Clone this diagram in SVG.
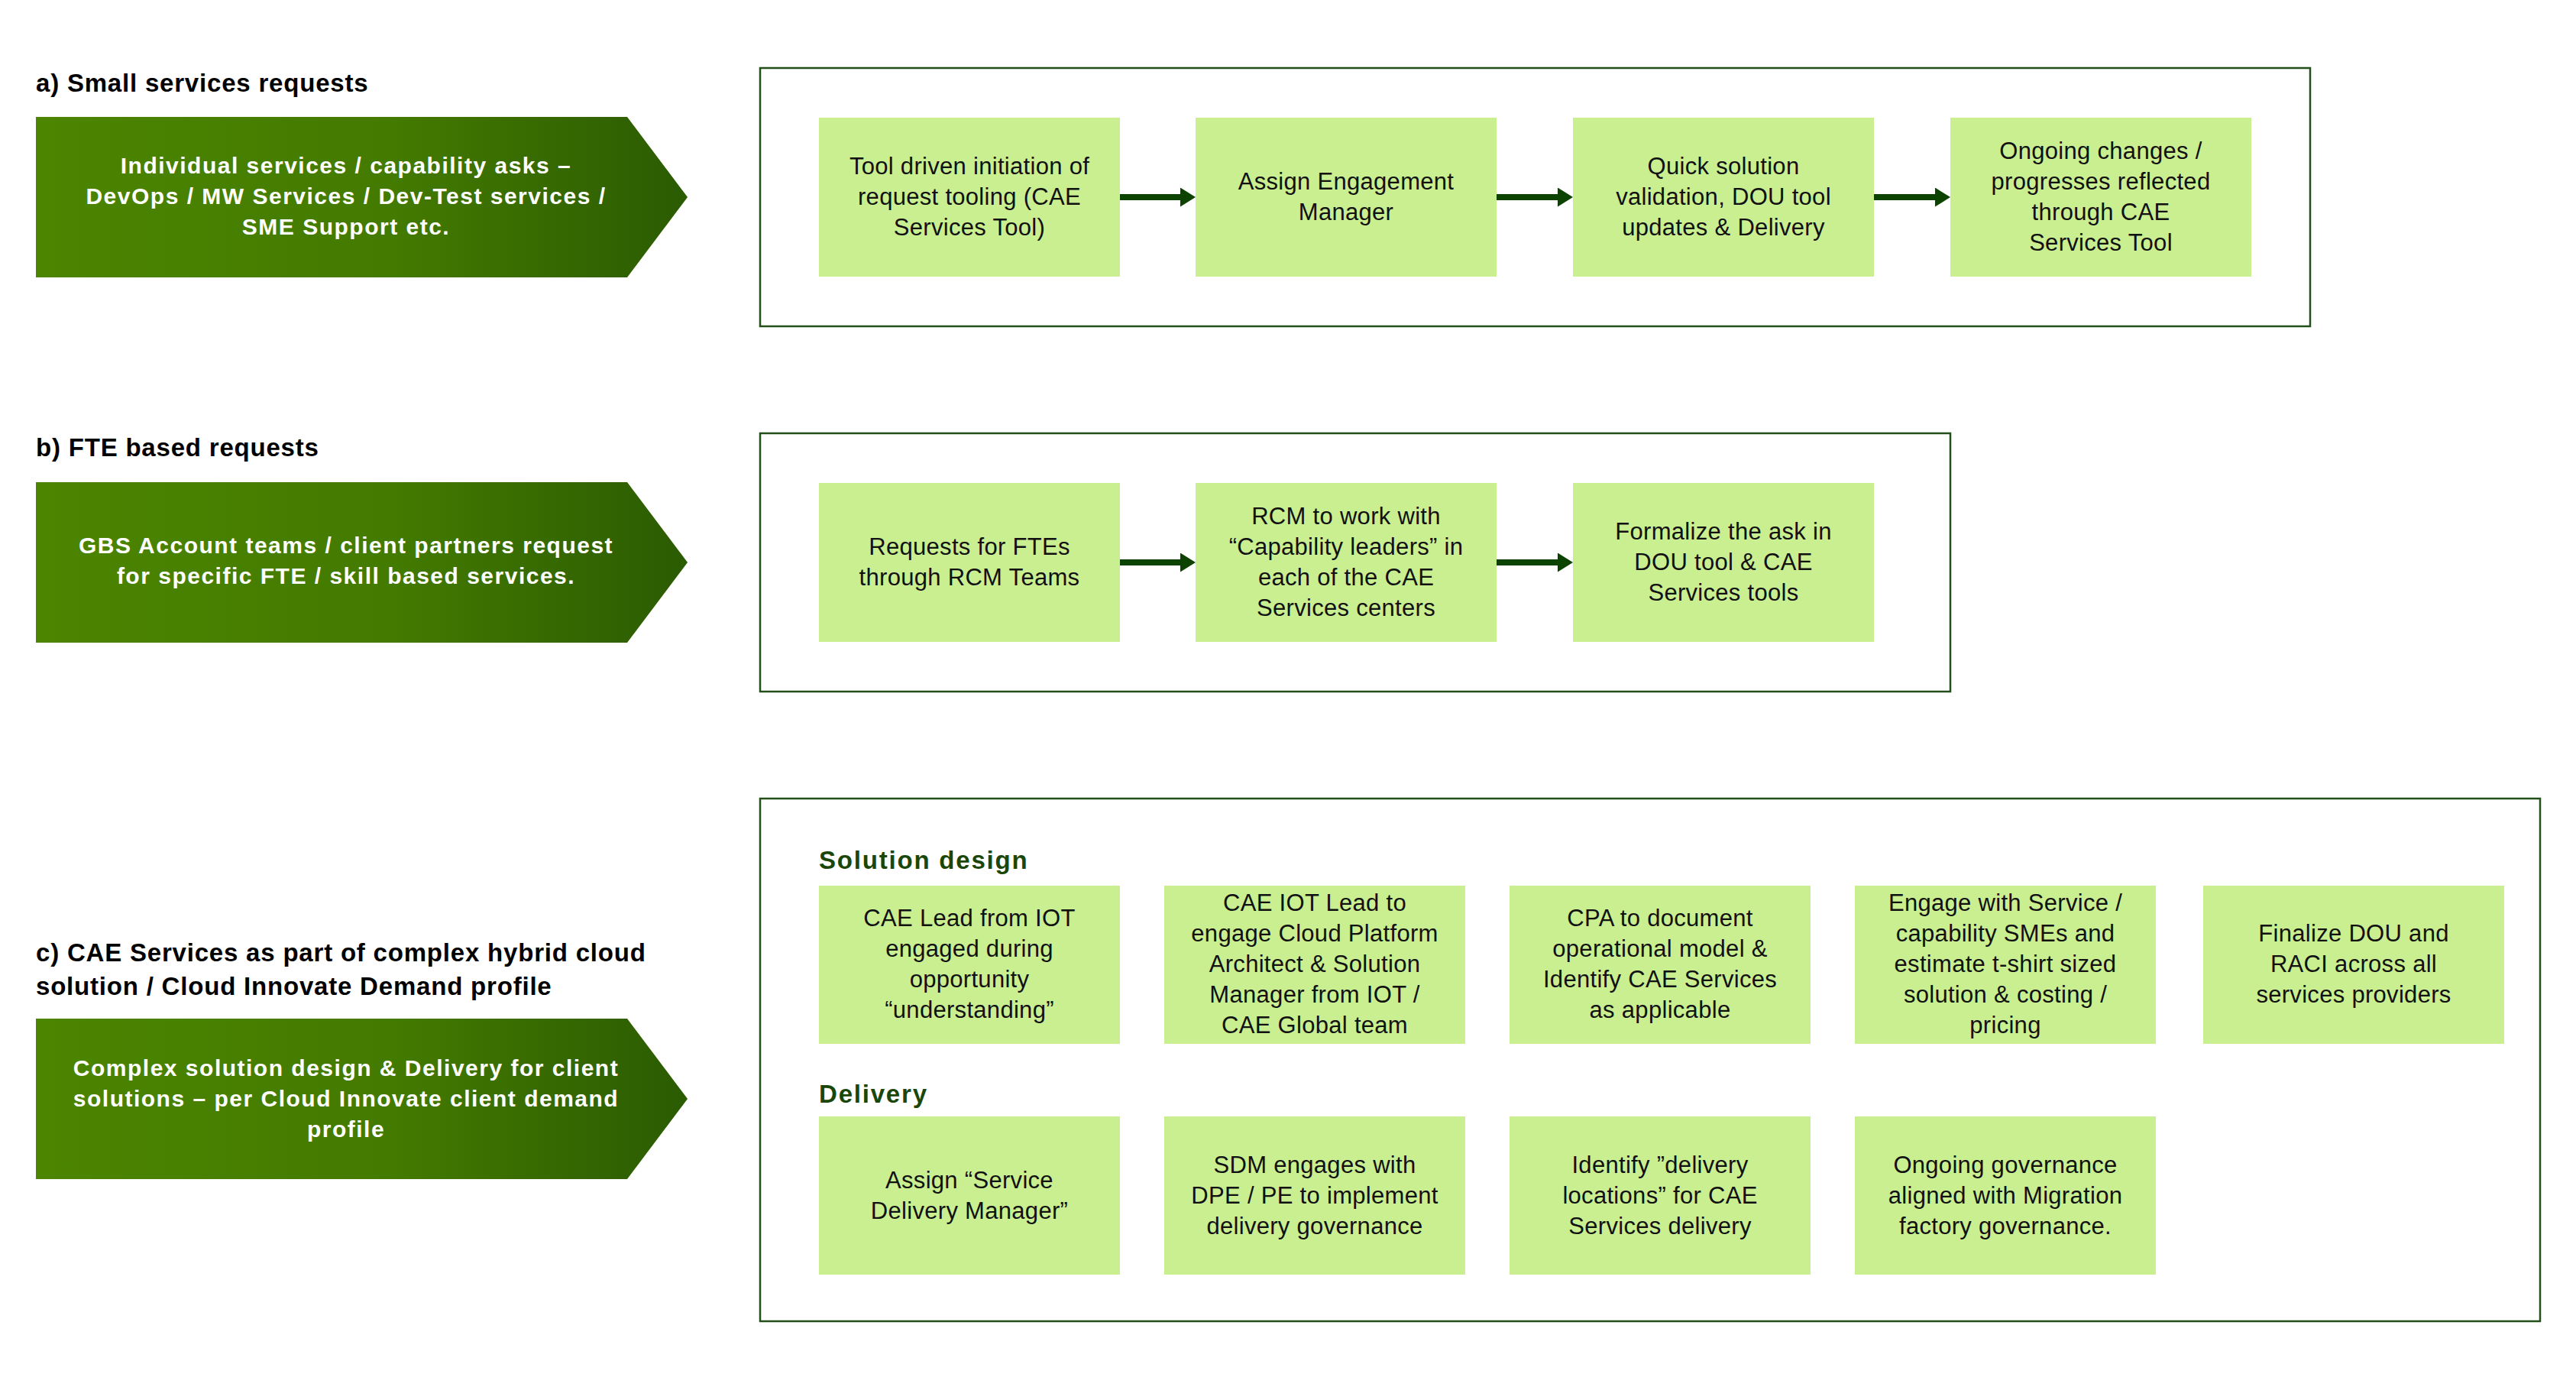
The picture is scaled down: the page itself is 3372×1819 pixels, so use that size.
<svg xmlns="http://www.w3.org/2000/svg" width="3372" height="1819" viewBox="0 0 3372 1819">
<style>
.title{font-family:"Liberation Sans",Arial,sans-serif;font-weight:bold;font-size:33px;fill:#000;letter-spacing:0.8px}
.sub{font-family:"Liberation Sans",Arial,sans-serif;font-weight:bold;font-size:33px;fill:#1a4708;letter-spacing:1.8px}
.chev{fill:url(#cg)}
.ct{font-family:"Liberation Sans",Arial,sans-serif;font-weight:bold;font-size:30px;fill:#fff;text-anchor:middle;letter-spacing:1.5px}
.frame{fill:none;stroke:#23501a;stroke-width:2.5}
.box{fill:#caef91}
.bt{font-family:"Liberation Sans",Arial,sans-serif;font-size:31px;fill:#111;text-anchor:middle;letter-spacing:0.3px}
.conn{stroke:#0d4300;stroke-width:8;fill:none;marker-end:url(#ah)}
</style>
<defs>
<linearGradient id="cg" x1="0" y1="0" x2="1" y2="0">
<stop offset="0" stop-color="#4c8500"/>
<stop offset="0.55" stop-color="#437a00"/>
<stop offset="1" stop-color="#2b5b02"/>
</linearGradient>
<marker id="ah" viewBox="0 0 20 25" refX="0" refY="12.5" markerWidth="20" markerHeight="25" markerUnits="userSpaceOnUse" orient="auto">
<path d="M0,0 L20,12.5 L0,25 Z" fill="#0d4300"/>
</marker>
</defs>
<rect width="3372" height="1819" fill="#fff"/>

<!-- Section a -->
<g id="section-a">
<text class="title" x="47" y="120">a) Small services requests</text>
<g id="chevron-a">
<path class="chev" d="M47,153 L821,153 L900,258 L821,363 L47,363 Z"/>
<text class="ct" x="453" y="227">Individual services / capability asks –</text>
<text class="ct" x="453" y="267">DevOps / MW Services / Dev-Test services /</text>
<text class="ct" x="453" y="307">SME Support etc.</text>
</g>
<rect id="frame-a" class="frame" x="995" y="89" width="2029" height="338"/>
</g>
<g id="a1"><rect class="box" x="1072" y="154" width="394" height="208"/>
<text class="bt" x="1269" y="228">Tool driven initiation of</text><text class="bt" x="1269" y="268">request tooling (CAE</text><text class="bt" x="1269" y="308">Services Tool)</text></g>
<g id="a2"><rect class="box" x="1565" y="154" width="394" height="208"/>
<text class="bt" x="1762" y="248">Assign Engagement</text><text class="bt" x="1762" y="288">Manager</text></g>
<g id="a3"><rect class="box" x="2059" y="154" width="394" height="208"/>
<text class="bt" x="2256" y="228">Quick solution</text><text class="bt" x="2256" y="268">validation, DOU tool</text><text class="bt" x="2256" y="308">updates &amp; Delivery</text></g>
<g id="a4"><rect class="box" x="2553" y="154" width="394" height="208"/>
<text class="bt" x="2750" y="208">Ongoing changes /</text><text class="bt" x="2750" y="248">progresses reflected</text><text class="bt" x="2750" y="288">through CAE</text><text class="bt" x="2750" y="328">Services Tool</text></g>

<!-- Section b -->
<g id="section-b">
<text class="title" x="47" y="597">b) FTE based requests</text>
<g id="chevron-b">
<path class="chev" d="M47,631 L821,631 L900,736 L821,841 L47,841 Z"/>
<text class="ct" x="453" y="724">GBS Account teams / client partners request</text>
<text class="ct" x="453" y="764">for specific FTE / skill based services.</text>
</g>
<rect id="frame-b" class="frame" x="995" y="567" width="1558" height="338"/>
</g>
<g id="b1"><rect class="box" x="1072" y="632" width="394" height="208"/>
<text class="bt" x="1269" y="726">Requests for FTEs</text><text class="bt" x="1269" y="766">through RCM Teams</text></g>
<g id="b2"><rect class="box" x="1565" y="632" width="394" height="208"/>
<text class="bt" x="1762" y="686">RCM to work with</text><text class="bt" x="1762" y="726">“Capability leaders” in</text><text class="bt" x="1762" y="766">each of the CAE</text><text class="bt" x="1762" y="806">Services centers</text></g>
<g id="b3"><rect class="box" x="2059" y="632" width="394" height="208"/>
<text class="bt" x="2256" y="706">Formalize the ask in</text><text class="bt" x="2256" y="746">DOU tool &amp; CAE</text><text class="bt" x="2256" y="786">Services tools</text></g>

<!-- Section c -->
<g id="section-c">
<text class="title" x="47" y="1258">c) CAE Services as part of complex hybrid cloud</text>
<text class="title" x="47" y="1302">solution / Cloud Innovate Demand profile</text>
<g id="chevron-c">
<path class="chev" d="M47,1333 L821,1333 L900,1438 L821,1543 L47,1543 Z"/>
<text class="ct" x="453" y="1408">Complex solution design &amp; Delivery for client</text>
<text class="ct" x="453" y="1448">solutions – per Cloud Innovate client demand</text>
<text class="ct" x="453" y="1488">profile</text>
</g>
<rect id="frame-c" class="frame" x="995" y="1045" width="2330" height="684"/>
<text class="sub" x="1072" y="1137">Solution design</text>
<text class="sub" x="1072" y="1443">Delivery</text>
</g>
<g id="c1"><rect class="box" x="1072" y="1159" width="394" height="207"/>
<text class="bt" x="1269" y="1212">CAE Lead from IOT</text><text class="bt" x="1269" y="1252">engaged during</text><text class="bt" x="1269" y="1292">opportunity</text><text class="bt" x="1269" y="1332">“understanding”</text></g>
<g id="c2"><rect class="box" x="1524" y="1159" width="394" height="207"/>
<text class="bt" x="1721" y="1192">CAE IOT Lead to</text><text class="bt" x="1721" y="1232">engage Cloud Platform</text><text class="bt" x="1721" y="1272">Architect &amp; Solution</text><text class="bt" x="1721" y="1312">Manager from IOT /</text><text class="bt" x="1721" y="1352">CAE Global team</text></g>
<g id="c3"><rect class="box" x="1976" y="1159" width="394" height="207"/>
<text class="bt" x="2173" y="1212">CPA to document</text><text class="bt" x="2173" y="1252">operational model &amp;</text><text class="bt" x="2173" y="1292">Identify CAE Services</text><text class="bt" x="2173" y="1332">as applicable</text></g>
<g id="c4"><rect class="box" x="2428" y="1159" width="394" height="207"/>
<text class="bt" x="2625" y="1192">Engage with Service /</text><text class="bt" x="2625" y="1232">capability SMEs and</text><text class="bt" x="2625" y="1272">estimate t-shirt sized</text><text class="bt" x="2625" y="1312">solution &amp; costing /</text><text class="bt" x="2625" y="1352">pricing</text></g>
<g id="c5"><rect class="box" x="2884" y="1159" width="394" height="207"/>
<text class="bt" x="3081" y="1232">Finalize DOU and</text><text class="bt" x="3081" y="1272">RACI across all</text><text class="bt" x="3081" y="1312">services providers</text></g>
<g id="d1"><rect class="box" x="1072" y="1461" width="394" height="207"/>
<text class="bt" x="1269" y="1555">Assign “Service</text><text class="bt" x="1269" y="1595">Delivery Manager”</text></g>
<g id="d2"><rect class="box" x="1524" y="1461" width="394" height="207"/>
<text class="bt" x="1721" y="1535">SDM engages with</text><text class="bt" x="1721" y="1575">DPE / PE to implement</text><text class="bt" x="1721" y="1615">delivery governance</text></g>
<g id="d3"><rect class="box" x="1976" y="1461" width="394" height="207"/>
<text class="bt" x="2173" y="1535">Identify ”delivery</text><text class="bt" x="2173" y="1575">locations” for CAE</text><text class="bt" x="2173" y="1615">Services delivery</text></g>
<g id="d4"><rect class="box" x="2428" y="1461" width="394" height="207"/>
<text class="bt" x="2625" y="1535">Ongoing governance</text><text class="bt" x="2625" y="1575">aligned with Migration</text><text class="bt" x="2625" y="1615">factory governance.</text></g>

<g id="connectors">
<line class="conn" x1="1466" y1="258" x2="1545" y2="258"/>
<line class="conn" x1="1959" y1="258" x2="2039" y2="258"/>
<line class="conn" x1="2453" y1="258" x2="2533" y2="258"/>
<line class="conn" x1="1466" y1="736" x2="1545" y2="736"/>
<line class="conn" x1="1959" y1="736" x2="2039" y2="736"/>
</g>
</svg>
